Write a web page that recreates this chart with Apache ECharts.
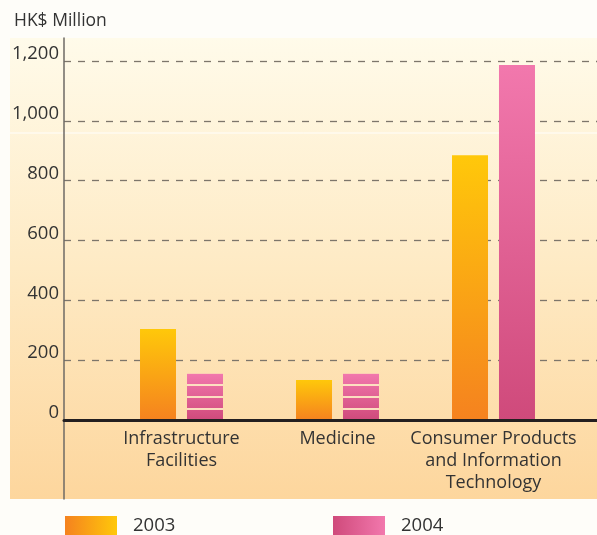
<!DOCTYPE html>
<html>
<head>
<meta charset="utf-8">
<script src="https://cdn.jsdelivr.net/npm/echarts@6/dist/echarts.min.js"></script>
<style>
  html, body { margin: 0; padding: 0; background: #fefdf9; }
  #chart { width: 597px; height: 535px; }
</style>
</head>
<body>
<div id="chart"></div>
<script>
// Investment by sector, HK$ million
const categories = ['Infrastructure\nFacilities', 'Medicine', 'Consumer Products\nand Information\nTechnology'];
const years = ['2003', '2004'];
const values2003 = [304, 134, 885];
const values2004 = [155, 155, 1187];
const yTicks = { min: 0, max: 1200, interval: 200 };

const FONT = 'Open Sans';
const TEXT = '#333333';

const chart = echarts.init(document.getElementById('chart'), null, { renderer: 'canvas' });

function vgrad(top, bottom) {
  return new echarts.graphic.LinearGradient(0, 0, 0, 1, [
    { offset: 0, color: top }, { offset: 1, color: bottom }
  ]);
}
function hgrad(left, right) {
  return new echarts.graphic.LinearGradient(0, 0, 1, 0, [
    { offset: 0, color: left }, { offset: 1, color: right }
  ]);
}

const orangeBar = vgrad('#ffc80a', '#f5821f');
const pinkBar = vgrad('#f278ad', '#cf4a7b');

const stripes = {
  symbol: 'rect', symbolSize: 1, color: 'rgba(255,236,196,0.9)',
  dashArrayX: [1, 0], dashArrayY: [1.5, 9.5], rotation: 0
};

const data2004 = values2004.map((v, i) => i < 2 ? { value: v, itemStyle: { decal: stripes } } : v);

const option = {
  backgroundColor: '#fefdf9',
  animation: false,
  textStyle: { fontFamily: FONT },
  graphic: [
    {
      type: 'rect', z: -10, silent: true,
      shape: { x: 10, y: 38, width: 587, height: 461 },
      style: { fill: new echarts.graphic.LinearGradient(0, 0, 0, 1, [
        { offset: 0, color: '#fffbea' },
        { offset: 0.5, color: '#feeac4' },
        { offset: 1, color: '#fdd69d' }
      ]) }
    },
    {
      type: 'line', z: -9, silent: true,
      shape: { x1: 10, y1: 133, x2: 597, y2: 133 },
      style: { stroke: 'rgba(255,255,255,0.9)', lineWidth: 1 }
    },
    {
      type: 'text', left: 14, top: 12,
      style: { text: 'HK$ Million', fontFamily: FONT, fontSize: 17.5, fill: TEXT }
    }
  ],
  grid: [
    // value scale, dashed rules and baseline
    { left: 64, right: 0, top: 61, bottom: 115 },
    // bars and category labels
    { left: 103.5, width: 468, top: 61, bottom: 115 },
    // full-height vertical rule
    { left: 64, right: 0, top: 38, bottom: 36 }
  ],
  xAxis: [
    {
      gridIndex: 0, type: 'category', data: [''],
      axisLine: { show: true, lineStyle: { color: '#231f20', width: 3 } },
      axisTick: { show: false }, axisLabel: { show: false }, splitLine: { show: false }, z: 5
    },
    {
      gridIndex: 1, type: 'category', data: categories,
      axisLine: { show: false }, axisTick: { show: false },
      axisLabel: { interval: 0, margin: 8, fontFamily: FONT, fontSize: 18, lineHeight: 22, color: TEXT }
    },
    {
      gridIndex: 2, type: 'category', data: [''], show: false
    }
  ],
  yAxis: [
    {
      gridIndex: 0, type: 'value', min: yTicks.min, max: yTicks.max, interval: yTicks.interval,
      axisLine: { show: false }, axisTick: { show: false },
      axisLabel: {
        margin: 5, fontFamily: FONT, fontSize: 18.5, color: TEXT,
        verticalAlign: 'bottom', lineHeight: 14,
        formatter: v => v.toLocaleString('en-US')
      },
      splitLine: { show: true, lineStyle: { color: '#7d766b', width: 1.3, type: [7, 7] } }
    },
    {
      gridIndex: 1, type: 'value', min: yTicks.min, max: yTicks.max, interval: yTicks.interval,
      show: false, splitLine: { show: false }
    },
    {
      gridIndex: 2, type: 'value', min: 0, max: 1,
      axisLine: { show: true, lineStyle: { color: '#6e6a64', width: 1.5 } },
      axisTick: { show: false }, axisLabel: { show: false }, splitLine: { show: false }
    }
  ],
  legend: [
    {
      left: 65, top: 516, padding: 0, itemWidth: 52, itemHeight: 20,
      icon: 'rect',
      data: [{ name: years[0], itemStyle: { color: hgrad('#f5821f', '#ffc80a') } }],
      textStyle: { fontFamily: FONT, fontSize: 18.5, color: TEXT, padding: [0, 0, 0, 11] }
    },
    {
      left: 333, top: 516, padding: 0, itemWidth: 52, itemHeight: 20,
      icon: 'rect',
      data: [{ name: years[1], itemStyle: { color: hgrad('#cf4a7b', '#f278ad') } }],
      textStyle: { fontFamily: FONT, fontSize: 18.5, color: TEXT, padding: [0, 0, 0, 11] }
    }
  ],
  series: [
    {
      name: years[0], type: 'bar', xAxisIndex: 1, yAxisIndex: 1,
      data: values2003, barWidth: 36, barGap: '30.5%',
      itemStyle: { color: orangeBar }
    },
    {
      name: years[1], type: 'bar', xAxisIndex: 1, yAxisIndex: 1,
      data: data2004, barWidth: 36, barGap: '30.5%',
      itemStyle: { color: pinkBar }
    }
  ]
};

chart.setOption(option);
</script>
</body>
</html>
